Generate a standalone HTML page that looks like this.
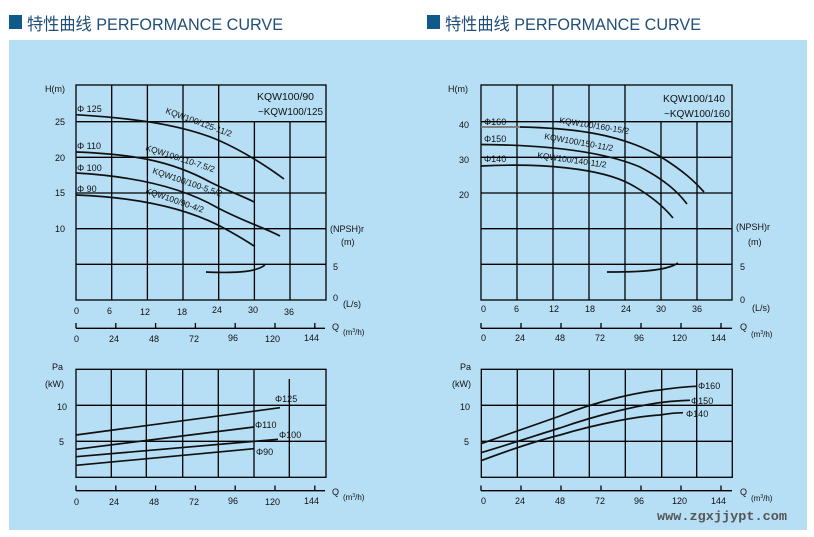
<!DOCTYPE html>
<html><head><meta charset="utf-8"><style>
html,body{margin:0;padding:0;background:#fff;width:814px;height:537px;overflow:hidden}
svg{display:block}
text{font-family:"Liberation Sans","Noto Sans CJK SC",sans-serif;fill:#111}
</style></head><body>
<svg width="814" height="537" viewBox="0 0 814 537" xmlns="http://www.w3.org/2000/svg">
<rect x="0" y="0" width="814" height="537" fill="#fff"/>
<rect x="9" y="40" width="798" height="490" fill="#b6def5"/>
<!-- titles -->
<rect x="9" y="15" width="13" height="14" fill="#0f5a8a"/>
<text x="27" y="30" font-size="17" style="fill:#1f4e79" textLength="256" lengthAdjust="spacingAndGlyphs">特性曲线  PERFORMANCE CURVE</text>
<rect x="427" y="15" width="13" height="14" fill="#0f5a8a"/>
<text x="445" y="30" font-size="17" style="fill:#1f4e79" textLength="256" lengthAdjust="spacingAndGlyphs">特性曲线  PERFORMANCE CURVE</text>

<g stroke="#000" stroke-width="1.3" fill="none">
<rect x="76" y="85" width="250" height="215"/>
<path d="M111.7 85V300M147.4 85V300M183 85V300M218.7 85V300M254.4 121.7V300M290 121.7V300"/>
<path d="M76 121.7H326M76 157.3H326M76 193H326M76 228.7H326M76 264.3H326"/>
<rect x="481" y="85" width="251" height="215"/>
<path d="M517 85V300M553 85V300M589 85V300M625 85V300M661 121.7V300M697 121.7V300"/>
<path d="M481 121.7H732M481 157.3H732M481 193H732M481 228.7H732M481 264.3H732"/>
<path d="M76 328.3H325M76 323V328.3M115.8 323V328.3M155.6 323V328.3M195.4 323V328.3M235.2 323V328.3M275 323V328.3M314.8 323V328.3"/>
<path d="M481 328.3H732M481 323V328.3M521 323V328.3M561 323V328.3M601 323V328.3M641 323V328.3M681 323V328.3M721 323V328.3"/>
<rect x="76" y="369.3" width="250" height="108"/>
<path d="M111.3 369.3V477.3M146.3 369.3V477.3M182.7 369.3V477.3M218.3 369.3V477.3M254 369.3V477.3M289.3 379V477.3"/>
<path d="M76 405.3H326M76 441.3H326"/>
<path d="M76 490.7H325M76 485.5V490.7M115.8 485.5V490.7M155.6 485.5V490.7M195.4 485.5V490.7M235.2 485.5V490.7M275 485.5V490.7M314.8 485.5V490.7"/>
<rect x="481.3" y="369.3" width="251" height="108"/>
<path d="M517.3 369.3V477.3M553.7 369.3V477.3M589.3 369.3V477.3M625.3 369.3V477.3M661.7 369.3V477.3M696.7 369.3V477.3"/>
<path d="M481.3 405.3H732M481.3 441.3H732"/>
<path d="M481 490.7H732M481 485.5V490.7M521 485.5V490.7M561 485.5V490.7M601 485.5V490.7M641 485.5V490.7M681 485.5V490.7M721 485.5V490.7"/>
</g>
<rect x="255" y="86" width="70" height="35" fill="#b6def5"/>
<rect x="661" y="86" width="70" height="35" fill="#b6def5"/>

<g stroke="#111" stroke-width="1.7" fill="none">
<path d="M76 114.7 C130 118 180 124 218 140 C245 152 265 165 284 179"/>
<path d="M76 152 C130 154 170 160 210 182 C230 192 245 197 254 202"/>
<path d="M76 173 C130 176 180 186 218 208 C245 222 265 228 280 236"/>
<path d="M76 195 C130 197 180 206 218 225 C235 234 245 240 254 246"/>
<path d="M206 272 C230 273 255 273 265 265"/>
<path d="M520 127 C570 128 620 133 661 157 C685 172 695 182 704 192"/>
<path d="M481 144.5 C540 145 600 150 640 167 C665 180 678 192 687 204"/>
<path d="M481 166 C540 163 600 168 630 184 C652 196 664 207 673 218"/>
<path d="M607 272 C630 272 665 272 678 263"/>
<path d="M76 435 L280 407.7"/>
<path d="M76 449.3 L254 427"/>
<path d="M76 456.7 L278 439.3"/>
<path d="M76 465.3 L254 448.7"/>
<path d="M481 443.7 C520 430 540 423 560 416 C600 400 640 392 660 390 C680 387 690 386.5 697 386.3"/>
<path d="M481 452.7 C520 441 540 434 560 428 C600 414 640 405 665 402 C680 400.5 686 400.5 690 400.3"/>
<path d="M481 460.7 C520 446 540 440 560 435 C600 423 640 416 660 415 C672 413 678 412.8 683 412.7"/>
</g>
<path d="M481 127 H520" stroke="#777" stroke-width="1.8"/>

<g font-size="9">
<text x="45" y="92">H(m)</text>
<text x="55" y="125">25</text><text x="55" y="161">20</text><text x="55" y="196">15</text><text x="55" y="232">10</text>
<text x="330" y="232">(NPSH)r</text><text x="341" y="245">(m)</text>
<text x="333" y="270">5</text><text x="333" y="301">0</text><text x="343" y="307">(L/s)</text>
<text x="74" y="314">0</text><text x="107" y="314">6</text><text x="140" y="315">12</text><text x="177" y="315">18</text><text x="212" y="313">24</text><text x="248" y="313">30</text><text x="284" y="315">36</text>
<text x="74" y="342">0</text><text x="109" y="342">24</text><text x="149" y="342">48</text><text x="189" y="342">72</text><text x="228" y="341">96</text><text x="265" y="342">120</text><text x="304" y="341">144</text>
<text x="332" y="330">Q</text><text x="343" y="335" font-size="8">(m<tspan font-size="5" dy="-3">3</tspan><tspan dy="3">/h)</tspan></text>

<text x="448" y="92">H(m)</text>
<text x="459" y="128">40</text><text x="459" y="163">30</text><text x="459" y="198">20</text>
<text x="736" y="230">(NPSH)r</text><text x="748" y="245">(m)</text>
<text x="740" y="270">5</text><text x="740" y="303">0</text><text x="752" y="311">(L/s)</text>
<text x="481" y="312">0</text><text x="514" y="312">6</text><text x="549" y="312">12</text><text x="585" y="312">18</text><text x="621" y="312">24</text><text x="656" y="312">30</text><text x="692" y="312">36</text>
<text x="481" y="341">0</text><text x="515" y="341">24</text><text x="555" y="341">48</text><text x="595" y="341">72</text><text x="634" y="341">96</text><text x="672" y="341">120</text><text x="711" y="341">144</text>
<text x="740" y="330">Q</text><text x="751" y="337" font-size="8">(m<tspan font-size="5" dy="-3">3</tspan><tspan dy="3">/h)</tspan></text>

<text x="52" y="370">Pa</text><text x="45" y="387">(kW)</text>
<text x="57" y="410">10</text><text x="59" y="445">5</text>
<text x="74" y="505">0</text><text x="109" y="505">24</text><text x="149" y="505">48</text><text x="189" y="505">72</text><text x="228" y="504">96</text><text x="265" y="505">120</text><text x="304" y="504">144</text>
<text x="332" y="495">Q</text><text x="343" y="500" font-size="8">(m<tspan font-size="5" dy="-3">3</tspan><tspan dy="3">/h)</tspan></text>

<text x="460" y="370">Pa</text><text x="452" y="387">(kW)</text>
<text x="460" y="410">10</text><text x="464" y="445">5</text>
<text x="481" y="504">0</text><text x="515" y="504">24</text><text x="555" y="504">48</text><text x="595" y="504">72</text><text x="634" y="504">96</text><text x="672" y="504">120</text><text x="711" y="504">144</text>
<text x="740" y="495">Q</text><text x="751" y="501" font-size="8">(m<tspan font-size="5" dy="-3">3</tspan><tspan dy="3">/h)</tspan></text>

<text x="77" y="112">Φ 125</text><text x="77" y="149">Φ 110</text><text x="77" y="171">Φ 100</text><text x="77" y="192">Φ 90</text>
<text x="484" y="125">Φ160</text><text x="484" y="142">Φ150</text><text x="484" y="162">Φ140</text>
<text x="275" y="402">Φ125</text><text x="255" y="428">Φ110</text><text x="279" y="438">Φ100</text><text x="256" y="455">Φ90</text>
<text x="698" y="389">Φ160</text><text x="691" y="404">Φ150</text><text x="686" y="417">Φ140</text>

<text font-size="8.5" transform="translate(165,113) rotate(20)">KQW100/125-11/2</text>
<text font-size="8.5" transform="translate(145,150) rotate(18)">KQW100/110-7.5/2</text>
<text font-size="8.5" transform="translate(152,173) rotate(19)">KQW100/100-5.5/2</text>
<text font-size="8.5" transform="translate(145,193) rotate(19)">KQW100/90-4/2</text>
<text font-size="8.5" transform="translate(559,123) rotate(9)">KQW100/160-15/2</text>
<text font-size="8.5" transform="translate(544,139) rotate(10)">KQW100/150-11/2</text>
<text font-size="8.5" transform="translate(537,158) rotate(8)">KQW100/140-11/2</text>
</g>
<text x="257" y="100" font-size="10.5" textLength="57" lengthAdjust="spacingAndGlyphs">KQW100/90</text>
<text x="258" y="115" font-size="10.5" textLength="65" lengthAdjust="spacingAndGlyphs">~KQW100/125</text>
<text x="663" y="102" font-size="10.5" textLength="62" lengthAdjust="spacingAndGlyphs">KQW100/140</text>
<text x="664" y="117" font-size="10.5" textLength="66" lengthAdjust="spacingAndGlyphs">~KQW100/160</text>
<text x="657" y="520" font-size="13" style="font-family:'Liberation Mono',monospace;fill:#555;font-weight:bold" textLength="130" lengthAdjust="spacingAndGlyphs">www.zgxjjypt.com</text>
</svg>
</body></html>
